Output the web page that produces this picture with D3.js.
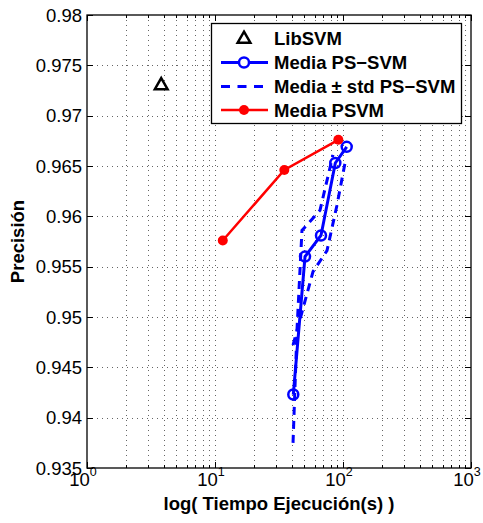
<!DOCTYPE html>
<html>
<head>
<meta charset="utf-8">
<script src="https://cdn.jsdelivr.net/npm/d3@7"></script>
<style>
body { margin: 0; background: #fff; }
text { font-family: "Liberation Sans", Arial, Helvetica, sans-serif; }
</style>
</head>
<body>
<svg width="483" height="523"></svg>
<script>
// values
var libTime = [3.8],
    libAcc = [0.9731];

var pssvmTime = [40.9, 50.5, 67.3, 87.1, 106.9],
    pssvmAcc = [0.9423, 0.9560, 0.9581, 0.9653, 0.9669];

var stdLoTime = [40.7, 43.7, 47.8, 66.1, 83.5],
    stdLoAcc = [0.9375, 0.9487, 0.9586, 0.9606, 0.9661];

var stdHiTime = [40.7, 58.3, 75.0, 89.7, 103.7],
    stdHiAcc = [0.9472, 0.9545, 0.9566, 0.9611, 0.9653];

var psvmTime = [11.5, 34.8, 91.9],
    psvmAcc = [0.9576, 0.9646, 0.9676];

var yTicks = ["0.935", "0.94", "0.945", "0.95", "0.955", "0.96", "0.965", "0.97", "0.975", "0.98"];
var xTicks = [1, 10, 100, 1000];
var xTickExp = ["0", "1", "2", "3"];

var legendLabels = ["LibSVM", "Media PS\u2212SVM", "Media \u00b1 std PS\u2212SVM", "Media PSVM"];

var svg = d3.select("svg"),
    pL = 87, pT = 15, pR = 471, pB = 468;

var x = d3.scaleLog().domain([1, 1000]).range([pL, pR]);
var y = d3.scaleLinear().domain([0.935, 0.98]).range([pB, pT]);

// grid
var minor = [];
[1, 10, 100].forEach(function(d) {
  for (var k = 1; k < 10; k++) minor.push(d * k);
});
minor.push(1000);

var grid = svg.append("g");
grid.selectAll(".vg").data(minor.filter(function(d) { return d > 1 && d < 1000; }))
  .enter().append("line")
  .attr("x1", function(d) { return Math.round(x(d)) + 0.5; })
  .attr("x2", function(d) { return Math.round(x(d)) + 0.5; })
  .attr("y1", pT).attr("y2", pB)
  .attr("stroke", "#666").attr("stroke-width", 1).attr("stroke-dasharray", "1,4");
grid.selectAll(".hg").data(yTicks.slice(1, -1))
  .enter().append("line")
  .attr("x1", pL).attr("x2", pR)
  .attr("y1", function(d) { return Math.round(y(+d)) + 0.5; })
  .attr("y2", function(d) { return Math.round(y(+d)) + 0.5; })
  .attr("stroke", "#666").attr("stroke-width", 1).attr("stroke-dasharray", "1,4");

// ticks, inward on all sides
var ticks = svg.append("g").attr("stroke", "#000").attr("stroke-width", 1);
minor.forEach(function(d) {
  var len = xTicks.indexOf(d) >= 0 ? 6 : 3, px = Math.round(x(d)) + 0.5;
  ticks.append("line").attr("x1", px).attr("x2", px).attr("y1", pB).attr("y2", pB - len);
  ticks.append("line").attr("x1", px).attr("x2", px).attr("y1", pT).attr("y2", pT + len);
});
yTicks.forEach(function(d) {
  var py = Math.round(y(+d)) + 0.5;
  ticks.append("line").attr("x1", pL).attr("x2", pL + 6).attr("y1", py).attr("y2", py);
  ticks.append("line").attr("x1", pR).attr("x2", pR - 6).attr("y1", py).attr("y2", py);
});

svg.append("rect")
  .attr("x", pL).attr("y", pT).attr("width", pR - pL).attr("height", pB - pT)
  .attr("fill", "none").attr("stroke", "#000").attr("stroke-width", 1.3);

// tick labels
svg.selectAll(".yl").data(yTicks).enter().append("text")
  .attr("x", pL - 5).attr("y", function(d) { return y(+d); })
  .attr("dy", "0.36em").attr("text-anchor", "end")
  .style("font-size", "18.5px").text(function(d) { return d; });

var xl = svg.selectAll(".xl").data(xTicks).enter().append("text")
  .attr("x", function(d) { return x(d) - 4; }).attr("y", 486)
  .attr("text-anchor", "middle").style("font-size", "18.5px");
xl.append("tspan").text("10");
xl.append("tspan").attr("dy", -10).style("font-size", "12.5px")
  .text(function(d, i) { return xTickExp[i]; });

// axis labels
svg.append("text").attr("x", (pL + pR) / 2).attr("y", 510)
  .attr("text-anchor", "middle").style("font-size", "18.5px").style("font-weight", "bold")
  .text("log( Tiempo Ejecuci\u00f3n(s) )");
svg.append("text").attr("transform", "translate(24," + (pT + pB) / 2 + ") rotate(-90)")
  .attr("text-anchor", "middle").style("font-size", "18.5px").style("font-weight", "bold")
  .text("Precisi\u00f3n");

// series
var line = d3.line().x(function(d) { return x(d[0]); }).y(function(d) { return y(d[1]); });
var plot = svg.append("g");

[[stdLoTime, stdLoAcc], [stdHiTime, stdHiAcc]].forEach(function(s) {
  plot.append("path").datum(d3.zip(s[0], s[1]))
    .attr("d", line).attr("fill", "none")
    .attr("stroke", "#0000ff").attr("stroke-width", 3).attr("stroke-dasharray", "8,6");
});

var ps = d3.zip(pssvmTime, pssvmAcc);
plot.append("path").datum(ps).attr("d", line).attr("fill", "none")
  .attr("stroke", "#0000ff").attr("stroke-width", 3);
plot.selectAll(".pc").data(ps).enter().append("circle")
  .attr("cx", function(d) { return x(d[0]); }).attr("cy", function(d) { return y(d[1]); })
  .attr("r", 5).attr("fill", "none").attr("stroke", "#0000ff").attr("stroke-width", 2.5);

var pv = d3.zip(psvmTime, psvmAcc);
plot.append("path").datum(pv).attr("d", line).attr("fill", "none")
  .attr("stroke", "#ff0000").attr("stroke-width", 2.5);
plot.selectAll(".rc").data(pv).enter().append("circle")
  .attr("cx", function(d) { return x(d[0]); }).attr("cy", function(d) { return y(d[1]); })
  .attr("r", 5).attr("fill", "#ff0000");

var tri = d3.symbol().type(d3.symbolTriangle).size(70);
plot.selectAll(".lt").data(d3.zip(libTime, libAcc)).enter().append("path")
  .attr("d", tri)
  .attr("transform", function(d) { return "translate(" + x(d[0]) + "," + (y(d[1]) + 1) + ")"; })
  .attr("fill", "none").attr("stroke", "#000").attr("stroke-width", 2.5);

// legend
var lg = svg.append("g");
lg.append("rect").attr("x", 211.5).attr("y", 23.5).attr("width", 250).attr("height", 100)
  .attr("fill", "#fff").attr("stroke", "#000").attr("stroke-width", 1.3);
var rowY = [38, 62.5, 86.5, 110];
legendLabels.forEach(function(t, i) {
  lg.append("text").attr("x", 274).attr("y", rowY[i]).attr("dy", "0.36em")
    .style("font-size", "18.5px").style("font-weight", "bold").text(t);
});
lg.append("path").attr("d", tri).attr("transform", "translate(244," + (rowY[0] + 1) + ")")
  .attr("fill", "none").attr("stroke", "#000").attr("stroke-width", 2.5);
lg.append("line").attr("x1", 221).attr("x2", 268).attr("y1", rowY[1]).attr("y2", rowY[1])
  .attr("stroke", "#0000ff").attr("stroke-width", 3);
lg.append("circle").attr("cx", 244).attr("cy", rowY[1]).attr("r", 5)
  .attr("fill", "#fff").attr("stroke", "#0000ff").attr("stroke-width", 2.5);
lg.append("line").attr("x1", 221).attr("x2", 268).attr("y1", rowY[2]).attr("y2", rowY[2])
  .attr("stroke", "#0000ff").attr("stroke-width", 3).attr("stroke-dasharray", "9,7.5");
lg.append("line").attr("x1", 221).attr("x2", 268).attr("y1", rowY[3]).attr("y2", rowY[3])
  .attr("stroke", "#ff0000").attr("stroke-width", 2.5);
lg.append("circle").attr("cx", 244).attr("cy", rowY[3]).attr("r", 5).attr("fill", "#ff0000");
</script>
</body>
</html>
